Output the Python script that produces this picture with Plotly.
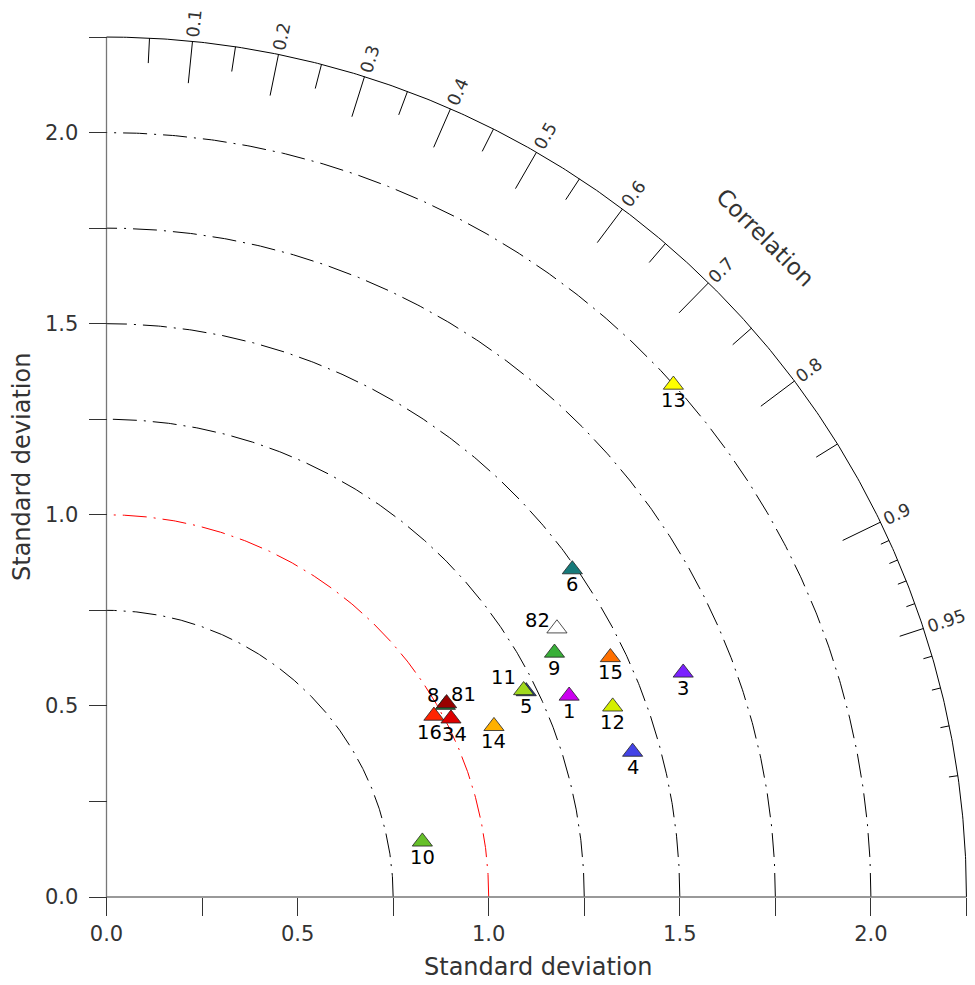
import numpy as np
import plotly.graph_objects as go

# ---------------- data ----------------
labels = ['1', '3', '4', '5', '6', '8', '81', '9', '10', '11', '12', '13',
          '14', '15', '16', '34', '82']
std_dev = [1.320, 1.619, 1.428, 1.223, 1.490, 1.019, 1.024, 1.335, 0.839,
           1.218, 1.415, 1.999, 1.108, 1.460, 0.979, 1.015, 1.372]
correlation = [0.917, 0.932, 0.964, 0.898, 0.818, 0.870, 0.869, 0.878, 0.985,
               0.896, 0.936, 0.742, 0.915, 0.903, 0.875, 0.888, 0.859]
colors = ['#cc00f0', '#7b22ff', '#4343e6', '#27408b', '#167a7a', '#1f7a3a',
          '#990000', '#38b038', '#66c02a', '#a0d81e', '#d4ee00', '#ffff00',
          '#ffb000', '#ff7000', '#ff2400', '#dd0000', '#ffffff']

ref_std = 1.0
std_arcs = [0.75, 1.0, 1.25, 1.5, 1.75, 2.0]
std_max = 2.25
std_tickvals = [0.0, 0.25, 0.5, 0.75, 1.0, 1.25, 1.5, 1.75, 2.0, 2.25]
std_ticktext = ['0.0', '', '0.5', '', '1.0', '', '1.5', '', '2.0', '']
corr_major = [0.1, 0.2, 0.3, 0.4, 0.5, 0.6, 0.7, 0.8, 0.9]
corr_minor = [0.05, 0.15, 0.25, 0.35, 0.45, 0.55, 0.65, 0.75, 0.85, 0.95]
corr_fine = [0.91, 0.92, 0.93, 0.94, 0.96, 0.97, 0.98, 0.99]
corr_labels = [0.1, 0.2, 0.3, 0.4, 0.5, 0.6, 0.7, 0.8, 0.9, 0.95]

# ---------------- layout geometry ----------------
OFF = 8                        # page body margin
W, H = 975 - OFF, 985 - OFF
ml, mr, mt, mb = 52, 0, 0, 52
ox, oy = 106.5 - OFF, 897.0 - OFF   # pixel of origin (figure coords)
u = 382.2                      # pixels per unit
xmin, xmax = (ml - ox) / u, (W - mr - ox) / u
ymin, ymax = -((H - mb) - oy) / u, (oy - mt) / u
pw, ph = W - ml - mr, H - mt - mb

FONT = 'DejaVu Sans'
fig = go.Figure()


def arc(r, n=400):
    t = np.linspace(0, np.pi / 2, n)
    return r * np.cos(t), r * np.sin(t)


# std-dev arcs
for r in std_arcs:
    ax_, ay_ = arc(r)
    fig.add_trace(go.Scatter(
        x=ax_, y=ay_, mode='lines', hoverinfo='skip', showlegend=False,
        line=dict(color='red' if r == ref_std else 'black', width=1,
                  dash='24px,7px,2px,7px')))

# outer arc
ax_, ay_ = arc(std_max)
fig.add_trace(go.Scatter(x=ax_, y=ay_, mode='lines', hoverinfo='skip',
                         showlegend=False, line=dict(color='black', width=1)))

# axis lines
fig.add_trace(go.Scatter(x=[0, std_max], y=[0, 0], mode='lines', hoverinfo='skip',
                         showlegend=False, line=dict(color='#777', width=1.3)))
fig.add_trace(go.Scatter(x=[0, 0], y=[0, std_max], mode='lines', hoverinfo='skip',
                         showlegend=False, line=dict(color='#777', width=1.3)))


def corr_ticks(vals, length_px):
    xs, ys = [], []
    L = length_px / u
    for c in vals:
        t = np.arccos(c)
        xs += [std_max * np.cos(t), (std_max - L) * np.cos(t), None]
        ys += [std_max * np.sin(t), (std_max - L) * np.sin(t), None]
    fig.add_trace(go.Scatter(x=xs, y=ys, mode='lines', hoverinfo='skip',
                             showlegend=False, line=dict(color='black', width=1)))


corr_ticks(corr_major, 42)
corr_ticks(corr_minor, 25)
corr_ticks(corr_fine, 9)

# correlation labels
cfs = 17.5
for c in corr_labels:
    t = np.arccos(c)
    txt = f'{c:g}'
    half = 0.5 * cfs * (0.636 * (len(txt) - 1) + 0.318)
    R = std_max + (4.5 + half) / u
    fig.add_annotation(x=R * np.cos(t), y=R * np.sin(t), text=txt, showarrow=False,
                       textangle=-np.degrees(t), xanchor='center', yanchor='middle',
                       font=dict(family=FONT, size=cfs, color='#333'))

fig.add_annotation(x=2.44 * np.cos(np.pi / 4), y=2.44 * np.sin(np.pi / 4),
                   text='Correlation', showarrow=False, textangle=45,
                   xanchor='center', yanchor='middle',
                   font=dict(family=FONT, size=23, color='#333'))

# points
th = np.arccos(np.array(correlation))
px = np.array(std_dev) * np.cos(th)
py = np.array(std_dev) * np.sin(th)
fig.add_trace(go.Scatter(
    x=px, y=py, mode='markers', hoverinfo='skip', showlegend=False, cliponaxis=False,
    marker=dict(symbol='triangle-up', size=17.5, color=colors,
                line=dict(color='#222', width=0.8))))

label_shift = {'11': (-20, 13), '82': (-19, 8), '8': (-12, 9), '81': (17, 9),
               '16': (-4, -16.5), '34': (4, -16)}
for lab, xx, yy in zip(labels, px, py):
    dx, dy = label_shift.get(lab, (0, -15.5))
    fig.add_annotation(x=xx, y=yy, text=lab, showarrow=False, xshift=dx, yshift=dy,
                       xanchor='center', yanchor='middle',
                       font=dict(family=FONT, size=19.5, color='black'))

# axis titles
fig.add_annotation(xref='paper', yref='paper',
                   x=(538 - OFF - ml) / pw, y=((H - mb) - (967 - OFF)) / ph,
                   xanchor='center', yanchor='middle',
                   text='Standard deviation', showarrow=False,
                   font=dict(family=FONT, size=24, color='#333'))
fig.add_annotation(xref='paper', yref='paper',
                   x=(22 - OFF - ml) / pw, y=((H - mb) - (467 - OFF)) / ph,
                   xanchor='center', yanchor='middle',
                   text='Standard deviation', showarrow=False, textangle=-90,
                   font=dict(family=FONT, size=24, color='#333'))

tick_style = dict(tickmode='array', tickvals=std_tickvals, ticktext=std_ticktext,
                  ticks='outside', ticklen=18, tickwidth=1, tickcolor='#333',
                  showline=False, showgrid=False, zeroline=False, automargin=False,
                  tickfont=dict(family=FONT, size=21, color='#333'))

fig.update_layout(
    width=W, height=H, autosize=False,
    margin=dict(l=ml, r=mr, t=mt, b=mb),
    paper_bgcolor='white', plot_bgcolor='white',
    xaxis=dict(range=[xmin, xmax], anchor='free', position=(0 - ymin) / (ymax - ymin),
               side='bottom', ticklabelstandoff=0, **tick_style),
    yaxis=dict(range=[ymin, ymax], anchor='free', position=(0 - xmin) / (xmax - xmin),
               side='left', ticklabelstandoff=6, **tick_style),
)

fig.write_html('out.html')
